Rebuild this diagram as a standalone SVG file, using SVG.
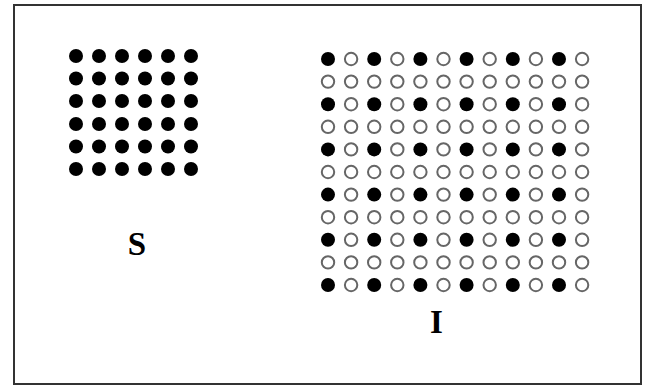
<svg xmlns="http://www.w3.org/2000/svg" width="649" height="388" viewBox="0 0 649 388">
<defs>
<style>
.f{fill:#000}
.o{fill:#fff;stroke:#666;stroke-width:2}
.lbl{font-family:"Liberation Serif",serif;font-weight:bold;font-size:33px;fill:#000;text-anchor:middle}
</style>
<circle id="d" r="7" class="f"/>
<circle id="c" r="6.2" class="o"/>
</defs>
<rect x="0" y="0" width="649" height="388" fill="#fff"/>
<rect x="14" y="5" width="627" height="379" fill="#fff" stroke="#333" stroke-width="2"/>
<g id="S">
<g id="S-r0"><use href="#d" x="76" y="56"/><use href="#d" x="99" y="56"/><use href="#d" x="122" y="56"/><use href="#d" x="145" y="56"/><use href="#d" x="168" y="56"/><use href="#d" x="191" y="56"/></g>
<g id="S-r1"><use href="#d" x="76" y="78.5"/><use href="#d" x="99" y="78.5"/><use href="#d" x="122" y="78.5"/><use href="#d" x="145" y="78.5"/><use href="#d" x="168" y="78.5"/><use href="#d" x="191" y="78.5"/></g>
<g id="S-r2"><use href="#d" x="76" y="101"/><use href="#d" x="99" y="101"/><use href="#d" x="122" y="101"/><use href="#d" x="145" y="101"/><use href="#d" x="168" y="101"/><use href="#d" x="191" y="101"/></g>
<g id="S-r3"><use href="#d" x="76" y="124"/><use href="#d" x="99" y="124"/><use href="#d" x="122" y="124"/><use href="#d" x="145" y="124"/><use href="#d" x="168" y="124"/><use href="#d" x="191" y="124"/></g>
<g id="S-r4"><use href="#d" x="76" y="146.5"/><use href="#d" x="99" y="146.5"/><use href="#d" x="122" y="146.5"/><use href="#d" x="145" y="146.5"/><use href="#d" x="168" y="146.5"/><use href="#d" x="191" y="146.5"/></g>
<g id="S-r5"><use href="#d" x="76" y="169"/><use href="#d" x="99" y="169"/><use href="#d" x="122" y="169"/><use href="#d" x="145" y="169"/><use href="#d" x="168" y="169"/><use href="#d" x="191" y="169"/></g>
<text class="lbl" x="137" y="255">S</text>
</g>
<g id="I">
<g id="I-r0"><use href="#d" x="328" y="59"/><use href="#c" x="351.1" y="59"/><use href="#d" x="374.2" y="59"/><use href="#c" x="397.3" y="59"/><use href="#d" x="420.4" y="59"/><use href="#c" x="443.5" y="59"/><use href="#d" x="466.6" y="59"/><use href="#c" x="489.7" y="59"/><use href="#d" x="512.8" y="59"/><use href="#c" x="535.9" y="59"/><use href="#d" x="559" y="59"/><use href="#c" x="582.1" y="59"/></g>
<g id="I-r1"><use href="#c" x="328" y="81.6"/><use href="#c" x="351.1" y="81.6"/><use href="#c" x="374.2" y="81.6"/><use href="#c" x="397.3" y="81.6"/><use href="#c" x="420.4" y="81.6"/><use href="#c" x="443.5" y="81.6"/><use href="#c" x="466.6" y="81.6"/><use href="#c" x="489.7" y="81.6"/><use href="#c" x="512.8" y="81.6"/><use href="#c" x="535.9" y="81.6"/><use href="#c" x="559" y="81.6"/><use href="#c" x="582.1" y="81.6"/></g>
<g id="I-r2"><use href="#d" x="328" y="104.2"/><use href="#c" x="351.1" y="104.2"/><use href="#d" x="374.2" y="104.2"/><use href="#c" x="397.3" y="104.2"/><use href="#d" x="420.4" y="104.2"/><use href="#c" x="443.5" y="104.2"/><use href="#d" x="466.6" y="104.2"/><use href="#c" x="489.7" y="104.2"/><use href="#d" x="512.8" y="104.2"/><use href="#c" x="535.9" y="104.2"/><use href="#d" x="559" y="104.2"/><use href="#c" x="582.1" y="104.2"/></g>
<g id="I-r3"><use href="#c" x="328" y="126.8"/><use href="#c" x="351.1" y="126.8"/><use href="#c" x="374.2" y="126.8"/><use href="#c" x="397.3" y="126.8"/><use href="#c" x="420.4" y="126.8"/><use href="#c" x="443.5" y="126.8"/><use href="#c" x="466.6" y="126.8"/><use href="#c" x="489.7" y="126.8"/><use href="#c" x="512.8" y="126.8"/><use href="#c" x="535.9" y="126.8"/><use href="#c" x="559" y="126.8"/><use href="#c" x="582.1" y="126.8"/></g>
<g id="I-r4"><use href="#d" x="328" y="149.4"/><use href="#c" x="351.1" y="149.4"/><use href="#d" x="374.2" y="149.4"/><use href="#c" x="397.3" y="149.4"/><use href="#d" x="420.4" y="149.4"/><use href="#c" x="443.5" y="149.4"/><use href="#d" x="466.6" y="149.4"/><use href="#c" x="489.7" y="149.4"/><use href="#d" x="512.8" y="149.4"/><use href="#c" x="535.9" y="149.4"/><use href="#d" x="559" y="149.4"/><use href="#c" x="582.1" y="149.4"/></g>
<g id="I-r5"><use href="#c" x="328" y="172"/><use href="#c" x="351.1" y="172"/><use href="#c" x="374.2" y="172"/><use href="#c" x="397.3" y="172"/><use href="#c" x="420.4" y="172"/><use href="#c" x="443.5" y="172"/><use href="#c" x="466.6" y="172"/><use href="#c" x="489.7" y="172"/><use href="#c" x="512.8" y="172"/><use href="#c" x="535.9" y="172"/><use href="#c" x="559" y="172"/><use href="#c" x="582.1" y="172"/></g>
<g id="I-r6"><use href="#d" x="328" y="194.6"/><use href="#c" x="351.1" y="194.6"/><use href="#d" x="374.2" y="194.6"/><use href="#c" x="397.3" y="194.6"/><use href="#d" x="420.4" y="194.6"/><use href="#c" x="443.5" y="194.6"/><use href="#d" x="466.6" y="194.6"/><use href="#c" x="489.7" y="194.6"/><use href="#d" x="512.8" y="194.6"/><use href="#c" x="535.9" y="194.6"/><use href="#d" x="559" y="194.6"/><use href="#c" x="582.1" y="194.6"/></g>
<g id="I-r7"><use href="#c" x="328" y="217.2"/><use href="#c" x="351.1" y="217.2"/><use href="#c" x="374.2" y="217.2"/><use href="#c" x="397.3" y="217.2"/><use href="#c" x="420.4" y="217.2"/><use href="#c" x="443.5" y="217.2"/><use href="#c" x="466.6" y="217.2"/><use href="#c" x="489.7" y="217.2"/><use href="#c" x="512.8" y="217.2"/><use href="#c" x="535.9" y="217.2"/><use href="#c" x="559" y="217.2"/><use href="#c" x="582.1" y="217.2"/></g>
<g id="I-r8"><use href="#d" x="328" y="239.8"/><use href="#c" x="351.1" y="239.8"/><use href="#d" x="374.2" y="239.8"/><use href="#c" x="397.3" y="239.8"/><use href="#d" x="420.4" y="239.8"/><use href="#c" x="443.5" y="239.8"/><use href="#d" x="466.6" y="239.8"/><use href="#c" x="489.7" y="239.8"/><use href="#d" x="512.8" y="239.8"/><use href="#c" x="535.9" y="239.8"/><use href="#d" x="559" y="239.8"/><use href="#c" x="582.1" y="239.8"/></g>
<g id="I-r9"><use href="#c" x="328" y="262.4"/><use href="#c" x="351.1" y="262.4"/><use href="#c" x="374.2" y="262.4"/><use href="#c" x="397.3" y="262.4"/><use href="#c" x="420.4" y="262.4"/><use href="#c" x="443.5" y="262.4"/><use href="#c" x="466.6" y="262.4"/><use href="#c" x="489.7" y="262.4"/><use href="#c" x="512.8" y="262.4"/><use href="#c" x="535.9" y="262.4"/><use href="#c" x="559" y="262.4"/><use href="#c" x="582.1" y="262.4"/></g>
<g id="I-r10"><use href="#d" x="328" y="285"/><use href="#c" x="351.1" y="285"/><use href="#d" x="374.2" y="285"/><use href="#c" x="397.3" y="285"/><use href="#d" x="420.4" y="285"/><use href="#c" x="443.5" y="285"/><use href="#d" x="466.6" y="285"/><use href="#c" x="489.7" y="285"/><use href="#d" x="512.8" y="285"/><use href="#c" x="535.9" y="285"/><use href="#d" x="559" y="285"/><use href="#c" x="582.1" y="285"/></g>
<text class="lbl" x="436.5" y="333">I</text>
</g>
<g id="connectors"/>
</svg>
